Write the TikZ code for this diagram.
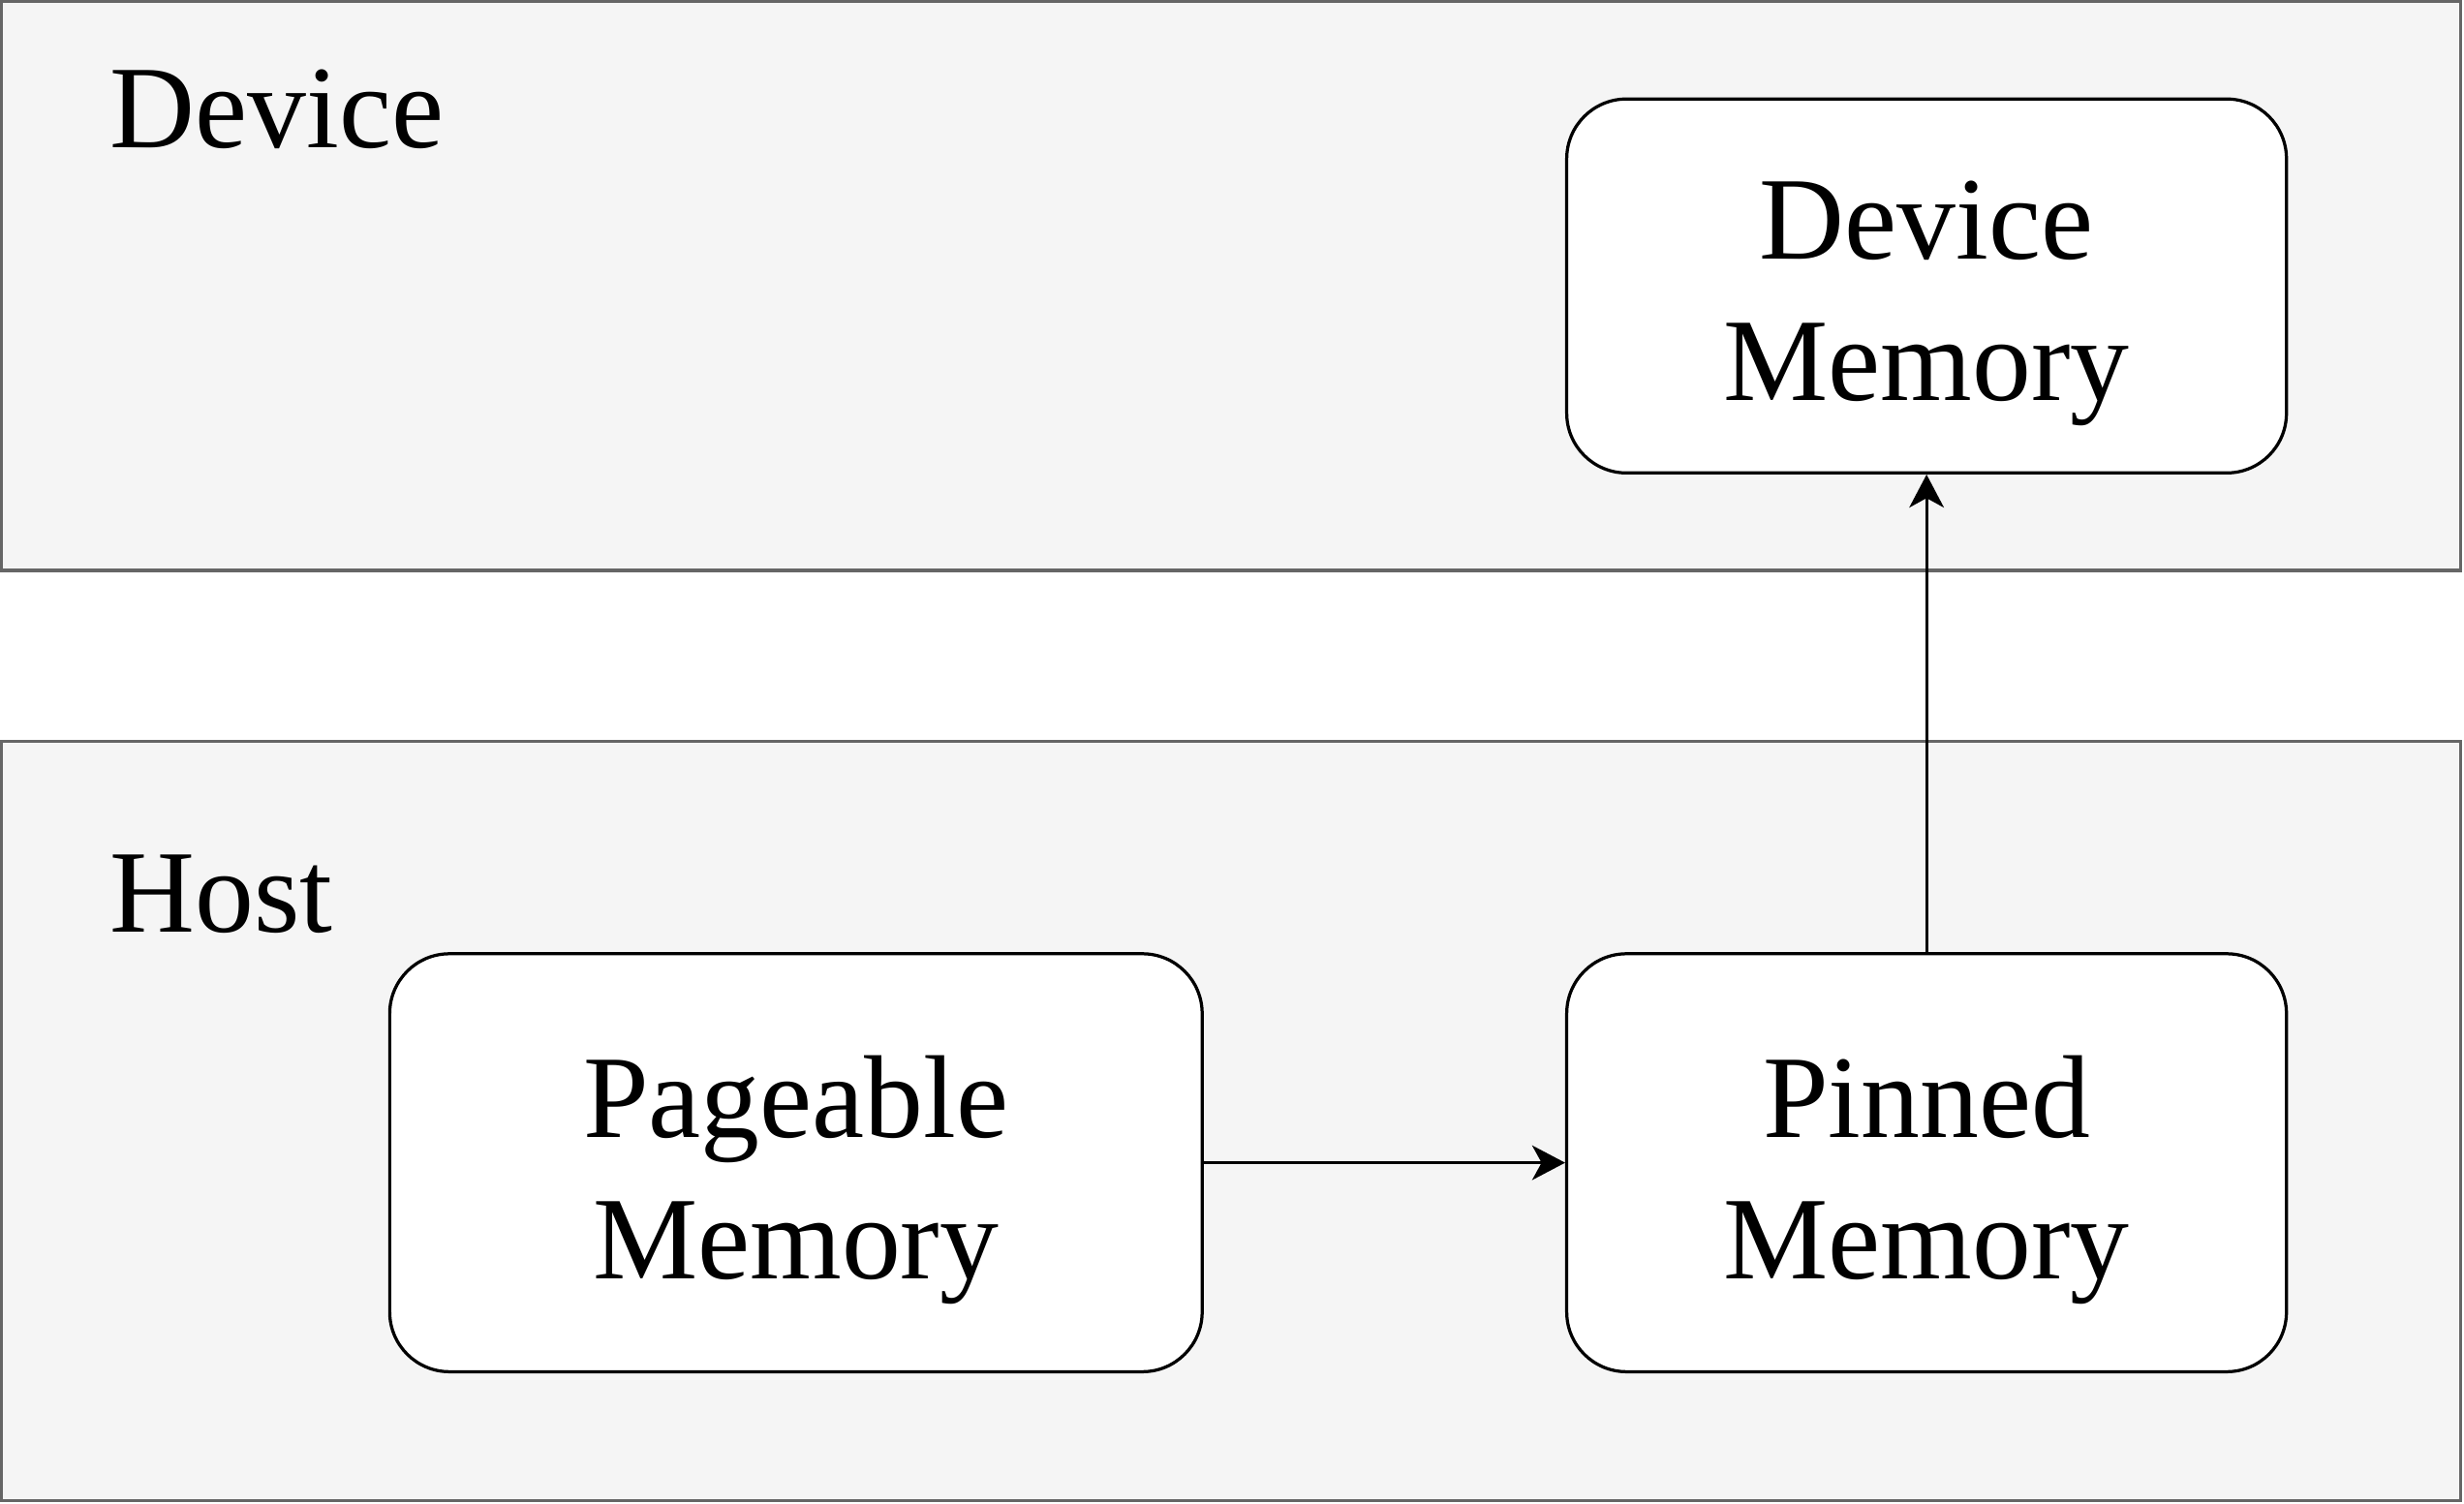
\documentclass[tikz,border=0pt]{standalone}
\usepackage{fontspec}
\setmainfont{Liberation Serif}
\usetikzlibrary{arrows.meta}
\tikzset{
  panel/.style={draw=black!60, fill=black!4, line width=2pt},
  membox/.style={draw=black, fill=white, line width=2pt, rounded corners=38pt, inner sep=0pt},
  memtext/.style={align=center, inner sep=0pt, font=\fontsize{75}{90}\selectfont},
  paneltext/.style={inner sep=0pt, anchor=base west, font=\fontsize{75}{90}\selectfont},
  link/.style={draw=black, line width=2pt, -{Stealth[length=21pt,width=22pt,inset=6pt]}}
}
\begin{document}
\begin{tikzpicture}[x=1pt,y=-1pt]
\useasboundingbox (0,0) rectangle (1568,957);
% panels
\draw[panel] (1,1) rectangle (1566,363);
\draw[panel] (1,472) rectangle (1566,955);
\node[paneltext] (devlabel) at (70,94) {Device};
\node[paneltext] (hostlabel) at (70,593) {Host};
% boxes
\node[membox, minimum width=458pt, minimum height=238pt] (dm) at (1226,182) {};
\node[membox, minimum width=517pt, minimum height=266pt] (pg) at (506.5,740) {};
\node[membox, minimum width=458pt, minimum height=266pt] (pn) at (1226,740) {};
\node[memtext] (dmt) at ([yshift=-11pt]dm.center) {Device\\Memory};
\node[memtext] (pgt) at ([yshift=-11pt]pg.center) {Pageable\\Memory};
\node[memtext] (pnt) at ([yshift=-11pt]pn.center) {Pinned\\Memory};
% connectors
\draw[link] (pg.east) -- (pn.west);
\draw[link] (pn.north) -- (dm.south);
\end{tikzpicture}
\end{document}
